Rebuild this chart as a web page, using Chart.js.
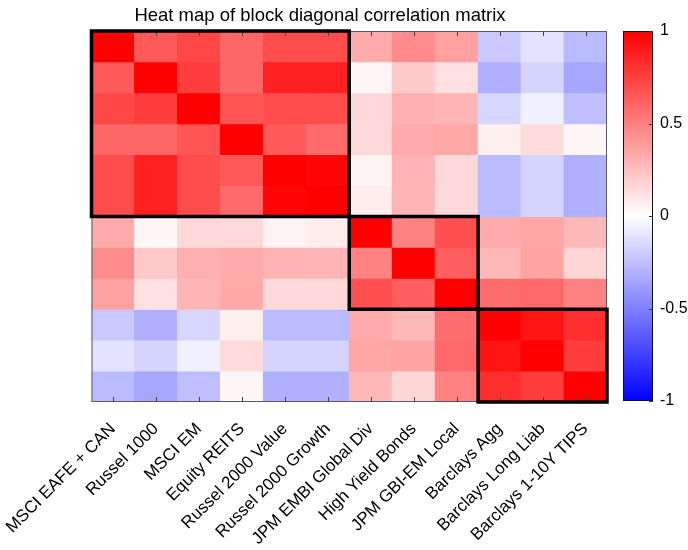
<!DOCTYPE html>
<html>
<head>
<meta charset="utf-8">
<script src="https://cdn.jsdelivr.net/npm/chart.js@4/dist/chart.umd.min.js"></script>
<style>
  html, body { margin: 0; padding: 0; background: #fff; }
  #wrap { position: relative; width: 688px; height: 550px; }
  #heat { position: absolute; left: 0; top: 0; }
  #bar { position: absolute; left: 608px; top: 0; }
</style>
</head>
<body>
<div id="wrap">
  <canvas id="heat" width="688" height="550"></canvas>
  <canvas id="bar" width="80" height="550"></canvas>
</div>
<script>
// Asset classes, in matrix order (rows top to bottom, columns left to right)
const assets = [
  'MSCI EAFE + CAN', 'Russel 1000', 'MSCI EM', 'Equity REITS',
  'Russel 2000 Value', 'Russel 2000 Growth', 'JPM EMBI Global Div',
  'High Yield Bonds', 'JPM GBI-EM Local', 'Barclays Agg',
  'Barclays Long Liab', 'Barclays 1-10Y TIPS'
];

// Correlation rows
const corrEAFE    = [1.00, 0.65, 0.72, 0.60, 0.70, 0.70, 0.33, 0.45, 0.37, -0.21, -0.11, -0.27];
const corrR1000   = [0.65, 1.00, 0.76, 0.60, 0.87, 0.87, 0.03, 0.21, 0.12, -0.31, -0.17, -0.35];
const corrEM      = [0.72, 0.76, 1.00, 0.67, 0.70, 0.70, 0.15, 0.31, 0.29, -0.16, -0.06, -0.25];
const corrREITS   = [0.60, 0.60, 0.67, 1.00, 0.65, 0.58, 0.15, 0.33, 0.34, 0.06, 0.14, 0.03];
const corrR2000V  = [0.70, 0.87, 0.70, 0.65, 1.00, 0.98, 0.05, 0.30, 0.15, -0.27, -0.17, -0.31];
const corrR2000G  = [0.70, 0.87, 0.70, 0.58, 0.98, 1.00, 0.07, 0.29, 0.15, -0.27, -0.17, -0.31];
const corrEMBI    = [0.33, 0.03, 0.15, 0.15, 0.05, 0.07, 1.00, 0.49, 0.69, 0.33, 0.35, 0.28];
const corrHY      = [0.45, 0.21, 0.31, 0.33, 0.30, 0.29, 0.49, 1.00, 0.63, 0.28, 0.36, 0.16];
const corrGBI     = [0.37, 0.12, 0.29, 0.34, 0.15, 0.15, 0.69, 0.63, 1.00, 0.57, 0.59, 0.49];
const corrAgg     = [-0.21, -0.31, -0.16, 0.06, -0.27, -0.27, 0.33, 0.28, 0.57, 1.00, 0.92, 0.82];
const corrLongLiab= [-0.11, -0.17, -0.06, 0.14, -0.17, -0.17, 0.35, 0.36, 0.59, 0.92, 1.00, 0.76];
const corrTIPS    = [-0.27, -0.35, -0.25, 0.03, -0.31, -0.31, 0.28, 0.16, 0.49, 0.82, 0.76, 1.00];

const corrMatrix = [corrEAFE, corrR1000, corrEM, corrREITS, corrR2000V, corrR2000G,
                    corrEMBI, corrHY, corrGBI, corrAgg, corrLongLiab, corrTIPS];

// Diagonal blocks (first and last index of each group)
const blocks = [[0, 5], [6, 8], [9, 11]];

// Colour bar ticks
const colorTicks = [-1, -0.5, 0, 0.5, 1];

const FONT = "'Liberation Sans', Arial, Helvetica, sans-serif";
const n = assets.length;

// Blue - white - red colour map on [-1, 1]
function corrColor(v) {
  v = Math.max(-1, Math.min(1, v));
  if (v >= 0) {
    const c = Math.round(255 * (1 - v));
    return `rgb(255,${c},${c})`;
  }
  const c = Math.round(255 * (1 + v));
  return `rgb(${c},${c},255)`;
}

// One dataset per matrix row; each cell is a floating bar one unit tall
const datasets = corrMatrix.map((row, r) => ({
  label: assets[r],
  data: row.map(() => [n - 1 - r, n - r]),
  backgroundColor: row.map(corrColor),
  borderWidth: 0,
  barPercentage: 1,
  categoryPercentage: 1,
  grouped: false,
  inflateAmount: 0.4
}));

// Axes frame, inward ticks, block outlines and title
const heatDecor = {
  id: 'heatDecor',
  afterDatasetsDraw(chart) {
    const { ctx, chartArea: a, scales: { x, y } } = chart;
    ctx.save();
    ctx.strokeStyle = '#58586a';
    ctx.lineWidth = 1;
    ctx.strokeRect(a.left + 0.5, a.top + 0.5, a.right - a.left - 1, a.bottom - a.top - 1);

    ctx.strokeStyle = '#444';
    ctx.beginPath();
    for (let i = 0; i < n; i++) {
      const px = Math.round(x.getPixelForValue(i)) + 0.5;
      ctx.moveTo(px, a.top); ctx.lineTo(px, a.top + 5);
      ctx.moveTo(px, a.bottom); ctx.lineTo(px, a.bottom - 5);
    }
    ctx.stroke();

    ctx.strokeStyle = '#000';
    ctx.lineWidth = 3.5;
    blocks.forEach(([s, e]) => {
      const l = x.getPixelForValue(s - 0.5);
      const r = x.getPixelForValue(e + 0.5);
      const t = y.getPixelForValue(n - s);
      const b = y.getPixelForValue(n - 1 - e);
      ctx.strokeRect(l, t, r - l, b - t);
    });
    ctx.restore();
  },
  afterDraw(chart) {
    const ctx = chart.ctx;
    ctx.save();
    ctx.font = `18.5px ${FONT}`;
    ctx.fillStyle = '#000';
    ctx.textAlign = 'center';
    ctx.textBaseline = 'alphabetic';
    ctx.fillText('Heat map of block diagonal correlation matrix', 320, 21);
    ctx.restore();
  }
};

new Chart(document.getElementById('heat'), {
  type: 'bar',
  data: { labels: assets, datasets },
  options: {
    responsive: false,
    animation: false,
    devicePixelRatio: 1,
    layout: { padding: { top: 31, right: 81, bottom: 0, left: 0 } },
    plugins: { legend: { display: false }, tooltip: { enabled: false }, title: { display: false } },
    scales: {
      x: {
        type: 'category',
        offset: true,
        grid: { display: false, drawTicks: false },
        border: { display: false },
        ticks: {
          autoSkip: false,
          minRotation: 45,
          maxRotation: 45,
          padding: 17,
          color: '#000',
          font: { size: 17, family: FONT }
        },
        afterFit(s) {
          s.height = 148;
          s.paddingLeft = 0;
          s.paddingRight = 0;
        }
      },
      y: {
        type: 'linear',
        min: 0,
        max: n,
        grid: { display: false, drawTicks: false },
        border: { display: false },
        ticks: { display: false },
        afterFit(s) { s.width = 91.5; }
      }
    }
  },
  plugins: [heatDecor]
});

// Colour bar frame and inward ticks
const barDecor = {
  id: 'barDecor',
  afterDatasetsDraw(chart) {
    const { ctx, chartArea: a, scales: { y } } = chart;
    ctx.save();
    ctx.strokeStyle = '#111';
    ctx.lineWidth = 1;
    ctx.strokeRect(a.left + 0.5, a.top + 0.5, a.right - a.left - 1, a.bottom - a.top - 1);
    ctx.strokeStyle = '#333';
    ctx.beginPath();
    colorTicks.forEach(v => {
      const py = Math.round(y.getPixelForValue(v)) + 0.5;
      ctx.moveTo(a.right, py); ctx.lineTo(a.right - 4, py);
    });
    ctx.stroke();
    ctx.restore();
  }
};

new Chart(document.getElementById('bar'), {
  type: 'bar',
  data: {
    labels: ['corr'],
    datasets: [{
      data: [[-1, 1]],
      borderWidth: 0,
      barPercentage: 1,
      categoryPercentage: 1,
      backgroundColor(c) {
        const { chart } = c;
        const a = chart.chartArea;
        if (!a) return '#fff';
        const y = chart.scales.y;
        const g = chart.ctx.createLinearGradient(0, y.getPixelForValue(-1), 0, y.getPixelForValue(1));
        g.addColorStop(0, corrColor(-1));
        g.addColorStop(0.5, corrColor(0));
        g.addColorStop(1, corrColor(1));
        return g;
      }
    }]
  },
  options: {
    responsive: false,
    animation: false,
    devicePixelRatio: 1,
    layout: { padding: { top: 31, bottom: 149, left: 15, right: 0 } },
    plugins: { legend: { display: false }, tooltip: { enabled: false } },
    scales: {
      x: { display: false },
      y: {
        position: 'right',
        min: -1,
        max: 1,
        grid: { display: false, drawTicks: false },
        border: { display: false },
        afterBuildTicks(s) { s.ticks = colorTicks.map(v => ({ value: v })); },
        ticks: {
          padding: 7,
          color: '#000',
          font: { size: 16, family: FONT },
          callback: v => String(v)
        },
        afterFit(s) { s.width = 35; }
      }
    }
  },
  plugins: [barDecor]
});
</script>
</body>
</html>
